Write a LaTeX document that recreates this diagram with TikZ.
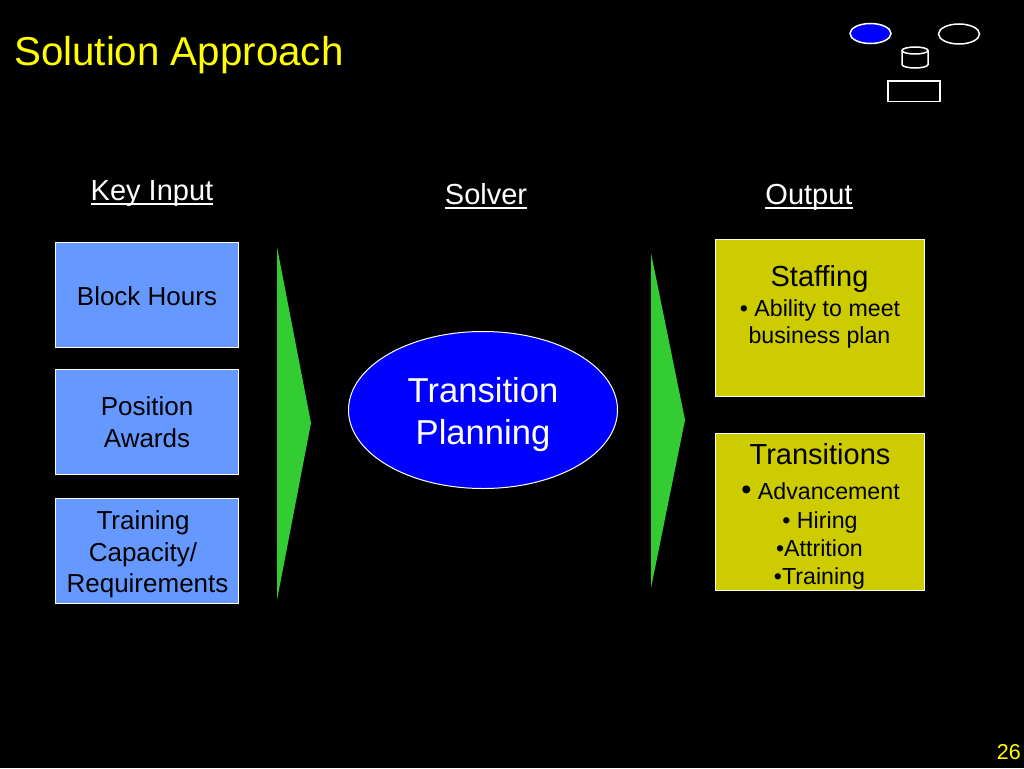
\documentclass[tikz,border=0pt]{standalone}
\usepackage{fontspec}
\setmainfont{Liberation Sans}
\usetikzlibrary{shapes.geometric}
\definecolor{inbox}{HTML}{6699FF}
\definecolor{outbox}{HTML}{CCCC00}
\definecolor{arrowgreen}{HTML}{33CC33}
\definecolor{solver}{HTML}{0000FF}
\definecolor{titley}{HTML}{FFFF00}
\newcommand{\ulin}[1]{\setbox0\hbox{#1}\rlap{\rule[-4pt]{\wd0}{1.6pt}}\box0}
\tikzset{x=1pt,y=-1pt,
 inp/.style={draw=white,line width=1pt,fill=inbox,minimum width=183pt,minimum height=105pt,anchor=north west,inner sep=0pt},
 outp/.style={draw=white,line width=1pt,fill=outbox,minimum width=209.5pt,minimum height=157pt,anchor=north west,inner sep=0pt},
 head/.style={text=white,font=\fontsize{29}{30}\selectfont,anchor=base,inner sep=0pt},
 tri/.style={fill=arrowgreen,draw=none},
 intxt/.style={text=black,inner sep=0pt,anchor=base,font=\fontsize{26}{30}\selectfont},
 bigtxt/.style={text=black,inner sep=0pt,anchor=base,font=\fontsize{29}{30}\selectfont},
 smalltxt/.style={text=black,inner sep=0pt,anchor=base,font=\fontsize{23.2}{28}\selectfont},
 soltxt/.style={text=white,inner sep=0pt,anchor=base,font=\fontsize{34.6}{40}\selectfont},
 icon/.style={draw=white,line width=1.5pt}
}
\begin{document}
\begin{tikzpicture}
\fill[black] (0,0) rectangle (1024,768);
\useasboundingbox (0,0) rectangle (1024,768);
\node[text=titley,anchor=base west,inner sep=0pt,font=\fontsize{40.3}{42}\selectfont] (title) at (14,66) {Solution Approach};
\node[text=titley,anchor=base east,inner sep=0pt,font=\fontsize{21.5}{22}\selectfont] (page) at (1021,759) {26};
\node[head] (h1) at (152,200.5) {\ulin{Key Input}};
\node[head] (h2) at (486,204.5) {\ulin{Solver}};
\node[head] (h3) at (809,204.5) {\ulin{Output}};
\node[inp] (b1) at (55,242) {};
\node[intxt] (t1) at (147,305) {Block Hours};
\node[inp] (b2) at (55,369) {};
\node[intxt] (t2a) at (147,415) {Position};
\node[intxt] (t2b) at (147,447) {Awards};
\node[inp] (b3) at (55,498) {};
\node[intxt] (t3a) at (143,529) {Training};
\node[intxt] (t3b) at (143,561) {Capacity/};
\node[intxt] (t3c) at (147.5,592) {Requirements};
\fill[tri] (277,247) -- (311,423) -- (277,600) -- cycle;
\fill[tri] (651,253) -- (685,420) -- (651,588) -- cycle;
\node[draw=white,line width=1pt,fill=solver,ellipse,minimum width=269pt,minimum height=157pt,inner sep=0pt] (solve) at (483,410) {};
\node[soltxt] (s1) at (483,402.5) {Transition};
\node[soltxt] (s2) at (483,444.5) {Planning};
\node[outp] (o1) at (714.5,238.5) {};
\node[bigtxt] (o1a) at (819.5,286) {Staffing};
\node[smalltxt] (o1b) at (820,316) {• Ability to meet};
\node[smalltxt] (o1c) at (819.5,343) {business plan};
\node[outp] (o2) at (714.5,433) {};
\node[bigtxt] (o2a) at (820,464) {Transitions};
\node[smalltxt] (o2b) at (820.5,499) {{\fontsize{29}{29}\selectfont •} Advancement};
\node[smalltxt] (o2c) at (820,528) {• Hiring};
\node[smalltxt] (o2d) at (819.5,556) {•Attrition};
\node[smalltxt] (o2e) at (819.5,584) {•Training};
\node[draw=white,line width=1.5pt,fill=solver,ellipse,minimum width=41pt,minimum height=20pt,inner sep=0pt] (e1) at (870.5,33.5) {};
\node[draw=white,line width=1.5pt,ellipse,minimum width=41pt,minimum height=20pt,inner sep=0pt] (e2) at (959,34) {};
\draw[icon] (915,50.5) ellipse [x radius=13,y radius=3.5];
\draw[icon] (902,50.5) -- (902,64.5) arc[start angle=180,end angle=360,x radius=13,y radius=-3.5] -- (928,50.5);
\node[draw=white,line width=1.5pt,minimum width=52pt,minimum height=20.5pt,inner sep=0pt] (r1) at (913.8,91) {};
\end{tikzpicture}
\end{document}
